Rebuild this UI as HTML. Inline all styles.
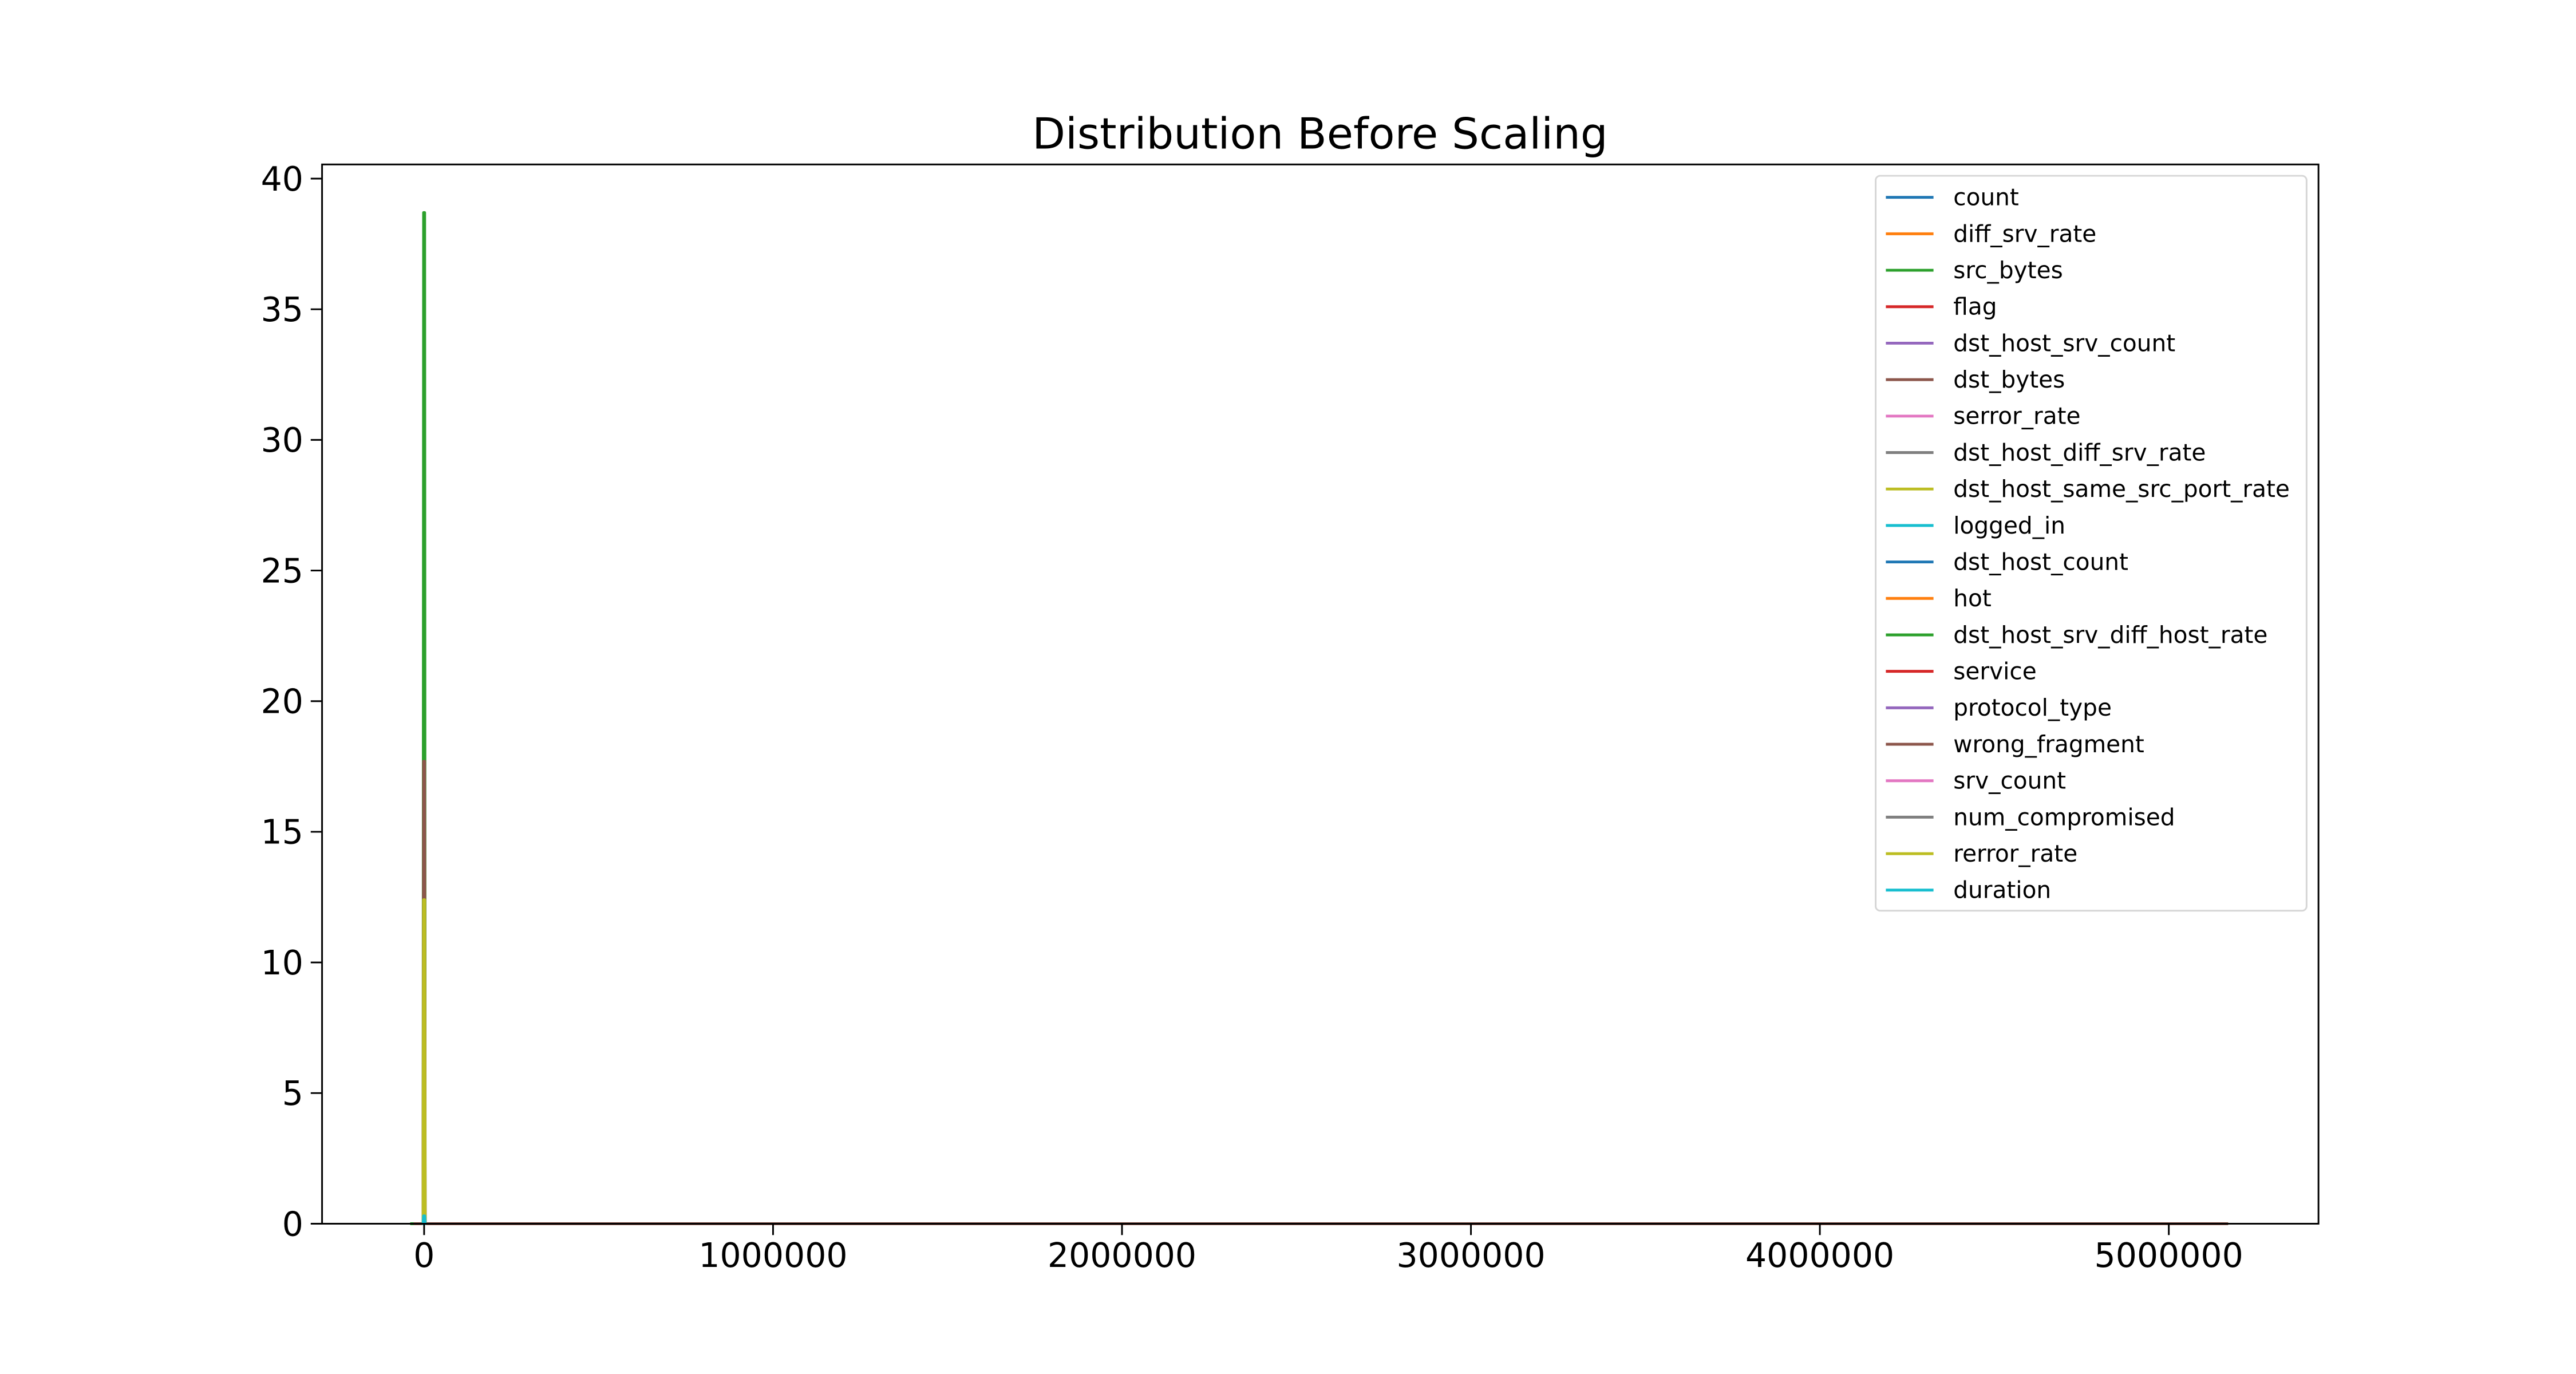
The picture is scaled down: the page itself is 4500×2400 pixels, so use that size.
<!DOCTYPE html>
<html><head><meta charset="utf-8">
<style>
html,body{margin:0;padding:0;background:#fff;}
svg{display:block;font-family:"DejaVu Sans","Liberation Sans",sans-serif;}
</style></head>
<body>
<svg id="chart" width="4500" height="2400" viewBox="0 0 4500 2400" xmlns="http://www.w3.org/2000/svg">
<rect x="0" y="0" width="4500" height="2400" fill="#fff"/>
<g transform="scale(0.9905)">
<text x="2328" y="262" font-size="76" text-anchor="middle" fill="#000">Distribution Before Scaling</text>
<g id="plot"></g>
<rect x="568" y="290" width="3521" height="1868" fill="none" stroke="#000" stroke-width="3"/>
<g id="axes"></g>
<g id="legend"></g>
</g>
</svg>
<script>
const seriesNames = ["count","diff_srv_rate","src_bytes","flag","dst_host_srv_count","dst_bytes","serror_rate","dst_host_diff_srv_rate","dst_host_same_src_port_rate","logged_in","dst_host_count","hot","dst_host_srv_diff_host_rate","service","protocol_type","wrong_fragment","srv_count","num_compromised","rerror_rate","duration"];
const seriesPeaks = [1.2,22,38.7,2.5,1.5,17.7,3,4,2,2.5,1.8,6,3,1,2.3,14,1.2,5,12.4,0.3];
const seriesMin = [-20000,-1,-40000,-1,-1,-30000,-1,-1,-1,-1,-1,-1,-1,-1,-1,-1,-1,-1,-1,-1];
const seriesMax = [500000,1,5170000,1,1,5170000,1,1,1,1,1,1,1,1,1,1,1,1,1,1];
const colors = ["#1f77b4","#ff7f0e","#2ca02c","#d62728","#9467bd","#8c564b","#e377c2","#7f7f7f","#bcbd22","#17becf"];
const xTicks = [0,1000000,2000000,3000000,4000000,5000000];
const xTickLabels = ["0","1000000","2000000","3000000","4000000","5000000"];
const yTicks = [0,5,10,15,20,25,30,35,40];
const yTickLabels = ["0","5","10","15","20","25","30","35","40"];

const NS="http://www.w3.org/2000/svg";
function xs(v){return 748 + v*(3825-748)/5000000;}
function ys(v){return 2158 - v*(2158-315)/40;}
function mk(tag,attrs){const e=document.createElementNS(NS,tag);for(const k in attrs)e.setAttribute(k,attrs[k]);return e;}
const plot=document.getElementById('plot');
const axes=document.getElementById('axes');
const legend=document.getElementById('legend');
const halfW=3000;
seriesNames.forEach((n,i)=>{
  const pts=[[seriesMin[i],0],[-halfW,0],[-halfW/2,seriesPeaks[i]],[halfW/2,seriesPeaks[i]],[halfW,0],[seriesMax[i],0]];
  const p=mk('polyline',{points:pts.map(q=>xs(q[0]).toFixed(1)+','+ys(q[1]).toFixed(1)).join(' '),fill:'none',stroke:colors[i%10],'stroke-width':5,'stroke-linejoin':'round'});
  
  
  plot.appendChild(p);
});
xTicks.forEach((t,i)=>{
  const l=mk('line',{x1:xs(t),x2:xs(t),y1:2158,y2:2178,stroke:'#000','stroke-width':3});
  
  
  axes.appendChild(l);
  const tx=mk('text',{x:xs(t),y:2234,'font-size':59,'text-anchor':'middle',fill:'#000'});
  tx.textContent=xTickLabels[i];
  
  
  axes.appendChild(tx);
});
yTicks.forEach((t,i)=>{
  const l=mk('line',{x1:548,x2:568,y1:ys(t),y2:ys(t),stroke:'#000','stroke-width':3});
  
  
  axes.appendChild(l);
  const tx=mk('text',{x:535,y:ys(t)+21,'font-size':59,'text-anchor':'end',fill:'#000'});
  tx.textContent=yTickLabels[i];
  
  
  axes.appendChild(tx);
});
const box=mk('rect',{x:3308,y:310,width:760,height:1296,rx:8,fill:'#fff','fill-opacity':0.8,stroke:'#d6d6d6','stroke-width':3});


legend.appendChild(box);
seriesNames.forEach((n,i)=>{
  const y=348+i*64.3;
  const l=mk('line',{x1:3326,x2:3410,y1:y,y2:y,stroke:colors[i%10],'stroke-width':5});
  
  
  legend.appendChild(l);
  const tx=mk('text',{x:3445,y:y+14,'font-size':41,fill:'#000'});
  tx.textContent=n;
  
  
  legend.appendChild(tx);
});
</script>
</body></html>
